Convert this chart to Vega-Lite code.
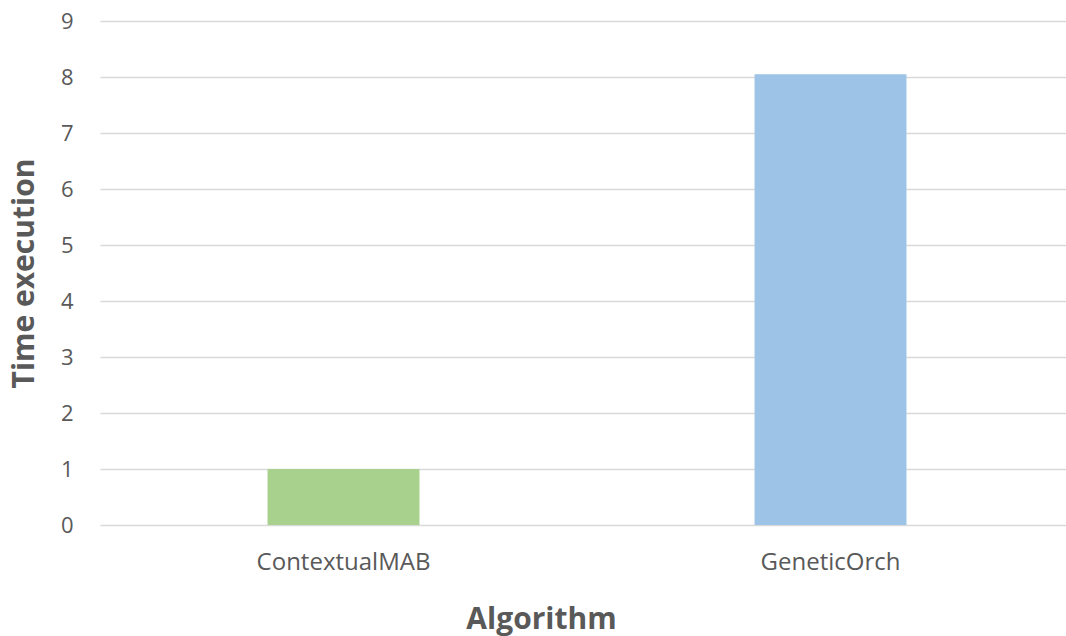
{
  "$schema": "https://vega.github.io/schema/vega-lite/v6.json",
  "autosize": {"type": "none"},
  "width": 974,
  "height": 504,
  "padding": {"left": 100, "top": 21, "right": 0, "bottom": 111},
  "background": "white",
  "data": {"values": [
    {"Algorithm": "ContextualMAB", "Time": 1.0},
    {"Algorithm": "GeneticOrch", "Time": 8.05}
  ]},
  "mark": {"type": "bar"},
  "encoding": {
    "x": {
      "field": "Algorithm", "type": "nominal", "sort": null,
      "scale": {"paddingInner": 0.688, "paddingOuter": 0.344},
      "axis": {
        "title": "Algorithm", "labelAngle": 0, "domain": false, "ticks": false,
        "labelPadding": 25, "titlePadding": 30, "titleX": 441,
        "labelFont": "Open Sans", "labelFontSize": 24, "labelColor": "#595959",
        "titleFont": "Open Sans", "titleFontSize": 30, "titleFontWeight": "bold", "titleColor": "#595959"
      }
    },
    "y": {
      "field": "Time", "type": "quantitative",
      "scale": {"domain": [0, 9], "nice": false},
      "axis": {
        "title": "Time execution", "values": [0,1,2,3,4,5,6,7,8,9],
        "labelOverlap": false,
        "domain": false, "ticks": false, "labelPadding": 27,
        "grid": true, "gridColor": "#d9d9d9", "gridWidth": 1.5,
        "labelFont": "Open Sans", "labelFontSize": 22, "labelColor": "#595959",
        "titleFont": "Open Sans", "titleFontSize": 30, "titleFontWeight": "bold", "titleColor": "#595959",
        "titlePadding": 21
      }
    },
    "color": {
      "field": "Algorithm", "type": "nominal",
      "scale": {"domain": ["ContextualMAB", "GeneticOrch"], "range": ["#a9d18e", "#9dc3e6"]},
      "legend": null
    }
  },
  "config": {"view": {"stroke": null}}
}
